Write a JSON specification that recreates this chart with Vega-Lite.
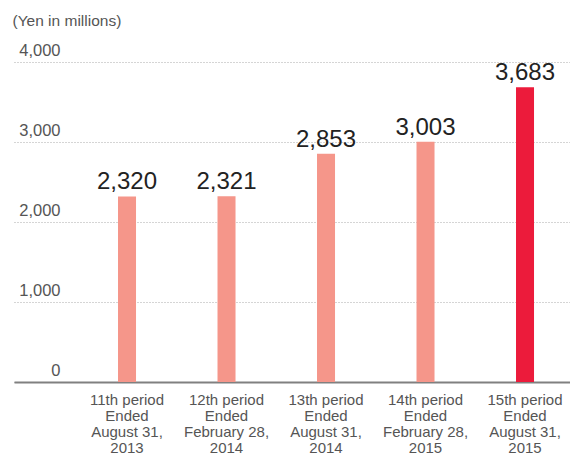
{
  "$schema": "https://vega.github.io/schema/vega-lite/v6.json",
  "width": 556,
  "height": 320,
  "autosize": "none",
  "padding": {"left": 14, "top": 62, "right": 0, "bottom": 73},
  "background": "white",
  "data": {
    "values": [
      {"period": "11th period|Ended|August 31,|2013", "value": 2320, "latest": "no"},
      {"period": "12th period|Ended|February 28,|2014", "value": 2321, "latest": "no"},
      {"period": "13th period|Ended|August 31,|2014", "value": 2853, "latest": "no"},
      {"period": "14th period|Ended|February 28,|2015", "value": 3003, "latest": "no"},
      {"period": "15th period|Ended|August 31,|2015", "value": 3683, "latest": "yes"}
    ]
  },
  "config": {
    "view": {"stroke": null},
    "font": "Liberation Sans"
  },
  "encoding": {
    "x": {
      "field": "period",
      "type": "nominal",
      "sort": null,
      "scale": {"paddingInner": 0.819, "paddingOuter": 0.7035, "align": 0.743},
      "axis": {
        "title": null,
        "labelAngle": 0,
        "labelExpr": "split(datum.label, '|')",
        "labelFont": "Liberation Sans",
        "labelFontSize": 15,
        "labelColor": "#555555",
        "labelLineHeight": 16,
        "labelBaseline": "top",
        "labelPadding": 10,
        "ticks": false,
        "tickSize": 0,
        "domain": true,
        "domainColor": "#808080",
        "domainWidth": 2,
        "labelLimit": 200
      }
    },
    "y": {
      "field": "value",
      "type": "quantitative",
      "scale": {"domain": [0, 4000]},
      "axis": {
        "values": [0, 1000, 2000, 3000, 4000],
        "format": ",.0f",
        "title": "(Yen in millions)",
        "titleAngle": 0,
        "titleAlign": "left",
        "titleBaseline": "alphabetic",
        "titleX": -2,
        "titleY": -37,
        "titleFont": "Liberation Sans",
        "titleFontSize": 15.5,
        "titleFontWeight": "normal",
        "titleColor": "#555555",
        "domain": false,
        "ticks": false,
        "tickSize": 0,
        "labelAlign": "right",
        "labelBaseline": "alphabetic",
        "labelPadding": -46,
        "labelOffset": -7,
        "labelFont": "Liberation Sans",
        "labelFontSize": 16.5,
        "labelColor": "#555555",
        "grid": true,
        "gridColor": "#aaaaaa",
        "gridDash": [1, 2],
        "gridWidth": 1
      }
    }
  },
  "layer": [
    {
      "mark": {"type": "bar"},
      "encoding": {
        "color": {
          "field": "latest",
          "type": "nominal",
          "scale": {"domain": ["no", "yes"], "range": ["#F5968A", "#EC1B3B"]},
          "legend": null
        }
      }
    },
    {
      "mark": {"type": "text", "baseline": "alphabetic", "dy": -7, "fontSize": 24, "color": "#222222", "font": "Liberation Sans"},
      "encoding": {
        "text": {"field": "value", "type": "quantitative", "format": ","}
      }
    }
  ]
}
